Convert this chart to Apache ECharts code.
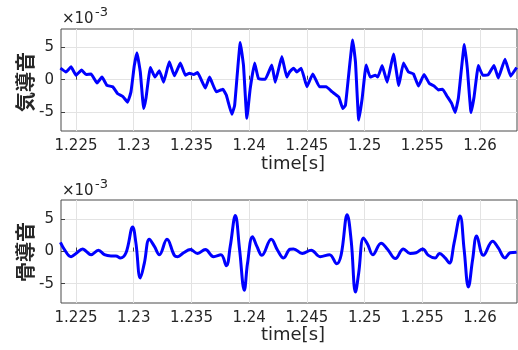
<!DOCTYPE html>
<html>
<head>
<meta charset="utf-8">
<script src="https://cdn.jsdelivr.net/npm/echarts@6/dist/echarts.min.js"></script>
<style>
  html, body { margin: 0; padding: 0; background: #fff; }
  #main { width: 518px; height: 350px; }
</style>
</head>
<body>
<div id="main"></div>
<script>
// x軸の目盛
var xTicks = [1.225, 1.23, 1.235, 1.24, 1.245, 1.25, 1.255, 1.26];
var yTicks = [-5, 0, 5];

// 気導音 (x10^-3)
var airTime = [1.22365, 1.22413, 1.22457, 1.2250, 1.22549, 1.22587, 1.2263, 1.22682, 1.22725, 1.22768,
    1.22818, 1.22861, 1.22904, 1.22947, 1.22976, 1.23005, 1.23028, 1.23057, 1.23086, 1.23106,
    1.23144, 1.23184, 1.23222, 1.23259, 1.23308, 1.23352, 1.23404, 1.23447, 1.23484, 1.23519,
    1.23553, 1.2362, 1.23657, 1.23715, 1.23772, 1.23802, 1.2385, 1.23874, 1.23923, 1.23951,
    1.2398, 1.24009, 1.24047, 1.24081, 1.24139, 1.24196, 1.24226, 1.24283, 1.24326, 1.2435,
    1.24384, 1.24413, 1.24451, 1.245, 1.24551, 1.24609, 1.24667, 1.24719, 1.24776, 1.24811,
    1.24834, 1.24897, 1.24921, 1.24949, 1.24979, 1.25013, 1.25048, 1.25094, 1.25114, 1.25152,
    1.25195, 1.2525, 1.25296, 1.25336, 1.2538, 1.25423, 1.25466, 1.25515, 1.25561, 1.25602,
    1.25639, 1.25676, 1.25711, 1.25754, 1.25784, 1.25812, 1.25864, 1.2589, 1.25922, 1.25948,
    1.25985, 1.26023, 1.26072, 1.26121, 1.26158, 1.26216, 1.26265, 1.26317];
var airVals = [1.8, 1.2, 2.0, 0.7, 1.5, 0.8, 0.9, -0.5, 0.4, -0.9,
    -1.1, -2.2, -2.6, -3.5, -1.9, 2.2, 4.2, 1.2, -4.5, -2.9,
    1.9, 0.4, 1.4, -0.4, 2.8, 0.6, 2.6, 0.7, 1.0, 0.8,
    1.1, -1.3, 0.4, -1.9, -1.5, -2.4, -5.4, -4.0, 5.8, 2.2,
    -6.0, -1.4, 2.6, 0.15, 0.05, 2.3, -0.4, 3.6, 0.4, 1.2,
    1.8, 1.2, 1.8, -1.1, 0.9, -1.1, -1.1, -1.9, -2.7, -4.5,
    -4.0, 6.2, 2.7, -6.3, -2.9, 2.3, 0.4, 0.7, 0.4, 2.2,
    -0.4, 4.0, -0.9, 2.6, 1.2, 0.9, -1.0, 0.8, -0.6, -1.0,
    -1.6, -1.5, -2.5, -3.7, -5.1, -2.9, 5.5, 1.7, -5.1, -2.7,
    2.2, 0.7, 0.8, 2.2, 0.25, 3.2, 0.55, 1.9];

// 骨導音 (x10^-3)
var boneTime = [1.22365, 1.2240, 1.22457, 1.2250, 1.22558, 1.22587, 1.2263, 1.22694, 1.22746, 1.22803,
    1.22846, 1.22884, 1.22933, 1.22991, 1.23019, 1.23057, 1.23092, 1.23135, 1.23179, 1.23222,
    1.23288, 1.23352, 1.2338, 1.23432, 1.2349, 1.23553, 1.2362, 1.23692, 1.23755, 1.23802,
    1.23836, 1.2388, 1.23917, 1.23958, 1.23986, 1.24029, 1.24067, 1.2411, 1.24191, 1.24246,
    1.24298, 1.24354, 1.24384, 1.2446, 1.24537, 1.24615, 1.24696, 1.24759, 1.24797, 1.24849,
    1.24884, 1.24921, 1.24949, 1.2499, 1.25027, 1.25071, 1.25143, 1.252, 1.25267, 1.25336,
    1.25394, 1.25446, 1.25503, 1.25553, 1.25611, 1.25648, 1.25697, 1.25734, 1.25775, 1.25827,
    1.25862, 1.25899, 1.25936, 1.25971, 1.26029, 1.26109, 1.26158, 1.26216, 1.2626, 1.26317];
var boneVals = [1.4, 0.3, -0.8, -0.3, 0.4, 0.05, -0.5, 0.2, -0.5, -0.7,
    -0.7, -1.0, -0.2, 3.8, 1.3, -4.1, -1.8, 1.9, 0.8, -0.5,
    1.9, -0.6, -0.8, -0.2, 0.3, -0.3, 0.3, -0.8, -0.5, -2.2,
    0.8, 5.6, 0.3, -6.0, -1.8, 2.3, 0.8, -0.6, 1.9, 0.2,
    -1.0, 0.35, 0.4, -0.3, 0.2, -0.8, -0.5, -1.9, -0.5, 5.7,
    1.6, -6.3, -3.3, 2.1, 1.1, -0.5, 1.3, 0.3, -1.1, 0.4,
    -0.3, -0.2, 0.4, -0.6, -1.0, -0.3, -1.0, -1.8, 1.3, 5.5,
    0.3, -5.5, -1.2, 2.4, -0.6, 1.6, 0.55, -1.0, -0.2, -0.1];

function pairs(t, v) {
    return t.map(function (x, i) { return [x, v[i]]; });
}

var myChart = echarts.init(document.getElementById('main'));
var tickFont = 'DejaVu Sans';
var textColor = '#262626';

function makeX(idx) {
    return {
        type: 'value',
        gridIndex: idx,
        min: 1.2237,
        max: 1.2632,
        axisLine: {show: false},
        axisTick: {show: true, inside: true, length: 4, customValues: xTicks, lineStyle: {color: '#404040'}},
        axisLabel: {
            customValues: xTicks,
            margin: 8,
            color: textColor,
            fontFamily: tickFont,
            fontSize: 15,
            formatter: function (v) { return String(+v.toFixed(3)); }
        },
        splitLine: {show: true, lineStyle: {color: '#e3e3e3', width: 1}}
    };
}
function makeY(idx, mn, mx) {
    return {
        type: 'value',
        gridIndex: idx,
        min: mn,
        max: mx,
        axisLine: {show: false},
        axisTick: {show: true, inside: true, length: 4, customValues: yTicks, lineStyle: {color: '#404040'}},
        axisLabel: {
            customValues: yTicks,
            margin: 7,
            color: textColor,
            fontFamily: tickFont,
            fontSize: 15
        },
        splitLine: {show: true, lineStyle: {color: '#e3e3e3', width: 1}}
    };
}

var option = {
    animation: false,
    grid: [
        {left: 61, top: 29, width: 456, height: 102, show: true, borderColor: '#4a4a4a', borderWidth: 1, backgroundColor: 'transparent'},
        {left: 61, top: 200, width: 456, height: 103, show: true, borderColor: '#4a4a4a', borderWidth: 1, backgroundColor: 'transparent'}
    ],
    xAxis: [makeX(0), makeX(1)],
    yAxis: [makeY(0, -8, 7.9), makeY(1, -8, 8)],
    series: [
        {
            name: '気導音',
            type: 'line',
            xAxisIndex: 0,
            yAxisIndex: 0,
            showSymbol: false,
            smooth: 0.1,
            lineStyle: {color: '#0000ff', width: 3},
            data: pairs(airTime, airVals)
        },
        {
            name: '骨導音',
            type: 'line',
            xAxisIndex: 1,
            yAxisIndex: 1,
            showSymbol: false,
            smooth: 0.4,
            lineStyle: {color: '#0000ff', width: 3},
            data: pairs(boneTime, boneVals)
        }
    ],
    graphic: [
        // 指数表示
        {type: 'text', left: 62, top: 12, style: {text: '×10', font: '15px "DejaVu Sans"', fill: textColor}},
        {type: 'text', left: 95, top: 6, style: {text: '-3', font: '13px "DejaVu Sans"', fill: textColor}},
        {type: 'text', left: 62, top: 184, style: {text: '×10', font: '15px "DejaVu Sans"', fill: textColor}},
        {type: 'text', left: 95, top: 178, style: {text: '-3', font: '13px "DejaVu Sans"', fill: textColor}},
        // 軸ラベル
        {type: 'text', x: 293, y: 164, style: {text: 'time[s]', font: '18px "DejaVu Sans"', fill: textColor, align: 'center', verticalAlign: 'middle'}},
        {type: 'text', x: 293, y: 335, style: {text: 'time[s]', font: '18px "DejaVu Sans"', fill: textColor, align: 'center', verticalAlign: 'middle'}},
        {type: 'text', x: 25, y: 82, rotation: Math.PI / 2, style: {text: '気導音', font: 'bold 20px "Noto Sans CJK JP"', fill: textColor, align: 'center', verticalAlign: 'middle'}},
        {type: 'text', x: 25, y: 252, rotation: Math.PI / 2, style: {text: '骨導音', font: 'bold 20px "Noto Sans CJK JP"', fill: textColor, align: 'center', verticalAlign: 'middle'}}
    ]
};

myChart.setOption(option);
</script>
</body>
</html>
